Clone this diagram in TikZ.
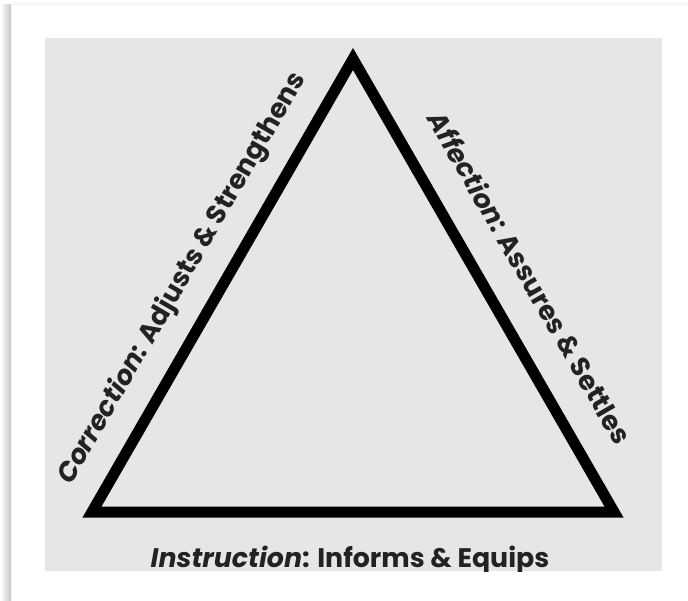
\documentclass[tikz,border=0pt]{standalone}
\usepackage{fontspec}
\setmainfont{Poppins}
\usepackage{tikz}
\usetikzlibrary{calc}
\usetikzlibrary{positioning}
\tikzset{lbl/.style = {inner sep = 0, anchor = base, text = mtext,
                       font = \fontsize{26.8}{30}\selectfont\bfseries}}
\tikzset{edge/.style = {line width = 11, line join = miter}}
\definecolor{mgray}{RGB}{230, 230, 230}
\definecolor{mtext}{RGB}{34, 34, 34}

\begin{document}
\begin{tikzpicture}[x = 1pt, y = 1pt]
           \useasboundingbox (0, 0) rectangle (688, 600);
           \fill [white] (0, 0) rectangle (688, 600);
           \shade [left color = white, right color = black!22] (0, 0) rectangle (11, 595);
           \shade [bottom color = black!5, top color = white] (11, 595) rectangle (688, 600);
           \fill [mgray] (45, 29) rectangle (662, 562);

           \coordinate (apex) at (353, 541);
           \coordinate (left) at (92, 88);
           \coordinate (right) at (614, 88);
           \draw [edge] (left) -- (apex) -- (right) -- cycle;

           \coordinate (cmid) at ($(left)!0.473!(apex)$);
           \coordinate (amid) at ($(apex)!0.531!(right)$);
           \node [lbl, rotate = 60] (correction) at ($(cmid)!31pt!90:(apex)$) {\textit{Correction}: Adjusts \& Strengthens};
           \node [lbl, rotate = -60] (affection) at ($(amid)!34pt!90:(right)$) {\textit{Affection}: Assures \& Settles};

           \begin{scope}
             \clip (45, 29) rectangle (662, 562);
             \node [lbl] (instruction) at (350, 33) {\textit{Instruction}: Informs \& Equips};
           \end{scope}
         \end{tikzpicture}
\end{document}
